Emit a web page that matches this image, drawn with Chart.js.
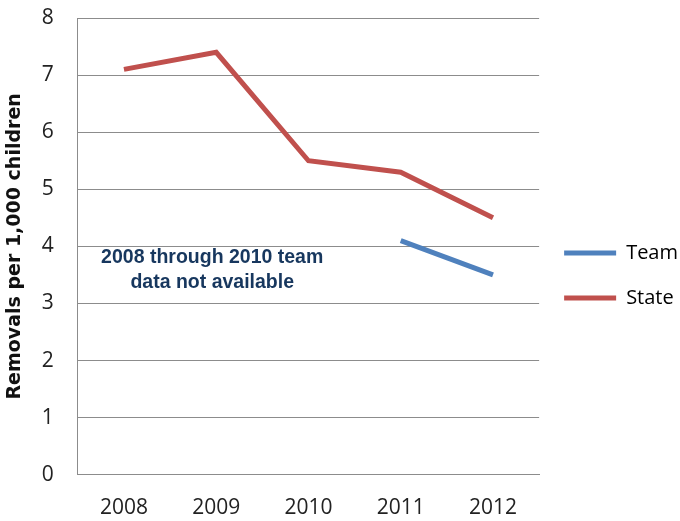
<!DOCTYPE html>
<html>
<head>
<meta charset="utf-8">
<script src="https://cdn.jsdelivr.net/npm/chart.js@4"></script>
<style>
  html, body { margin: 0; padding: 0; background: #fff; }
  #wrap { width: 680px; height: 521px; }
</style>
</head>
<body>
<div id="wrap"><canvas id="chart" width="680" height="521"></canvas></div>
<script>
// data
const years = ['2008', '2009', '2010', '2011', '2012'];
const teamValues = [null, null, null, 4.1, 3.5];
const stateValues = [7.1, 7.4, 5.5, 5.3, 4.5];
const yTicks = [0, 1, 2, 3, 4, 5, 6, 7, 8];
const noteLines = ['2008 through 2010 team', 'data not available'];

const FONT = '"Open Sans", Lato, sans-serif';

// text note inside the plot
const notePlugin = {
  id: 'note',
  afterDatasetsDraw(chart) {
    const { ctx, scales } = chart;
    const x = scales.x.getPixelForValue(1) - 4;
    ctx.save();
    ctx.fillStyle = '#17375E';
    ctx.font = 'bold 19.5px "Liberation Sans", Arial, sans-serif';
    ctx.textAlign = 'center';
    ctx.textBaseline = 'middle';
    ctx.fillText(noteLines[0], x, scales.y.getPixelForValue(3.8));
    ctx.fillText(noteLines[1], x, scales.y.getPixelForValue(3.36));
    ctx.restore();
  }
};

new Chart(document.getElementById('chart'), {
  type: 'line',
  data: {
    labels: years,
    datasets: [
      {
        label: 'Team',
        data: teamValues,
        borderColor: '#4F81BD',
        backgroundColor: '#4F81BD',
        borderWidth: 5,
        pointRadius: 0,
        tension: 0,
        spanGaps: false
      },
      {
        label: 'State',
        data: stateValues,
        borderColor: '#C0504D',
        backgroundColor: '#C0504D',
        borderWidth: 5,
        pointRadius: 0,
        tension: 0
      }
    ]
  },
  options: {
    responsive: false,
    animation: false,
    layout: { padding: { top: 9, right: -8, bottom: -21, left: 4 } },
    plugins: {
      tooltip: { enabled: false },
      legend: {
        position: 'right',
        labels: {
          boxWidth: 52,
          boxHeight: 5,
          useBorderRadius: true,
          borderRadius: 2.5,
          padding: 25,
          color: '#222',
          font: { family: FONT, size: 20 },
          generateLabels(chart) {
            return chart.data.datasets.map((ds, i) => ({
              text: ds.label,
              fillStyle: ds.borderColor,
              strokeStyle: ds.borderColor,
              lineWidth: 0,
              datasetIndex: i,
              hidden: false
            }));
          }
        }
      }
    },
    scales: {
      x: {
        offset: true,
        grid: { display: false, drawTicks: false },
        border: { display: true, color: '#8c8c8c', width: 1 },
        ticks: { color: '#222', padding: 21, font: { family: FONT, size: 21 } }
      },
      y: {
        min: 0,
        max: 8,
        afterBuildTicks(scale) { scale.ticks = yTicks.map(v => ({ value: v })); },
        afterFit(scale) {
          scale.width -= 21;
          scale.paddingTop = 18;
          scale.paddingBottom = 9;
        },
        grid: { color: '#8c8c8c', lineWidth: 1, drawTicks: false },
        border: { display: true, color: '#8c8c8c', width: 1 },
        ticks: { color: '#222', padding: 24, font: { family: FONT, size: 21 } },
        title: {
          display: true,
          text: 'Removals per 1,000 children',
          color: '#111',
          padding: { top: 0, bottom: 12 },
          font: { family: '"DejaVu Sans", sans-serif', size: 19, weight: 'bold' }
        }
      }
    }
  },
  plugins: [notePlugin]
});
</script>
</body>
</html>
